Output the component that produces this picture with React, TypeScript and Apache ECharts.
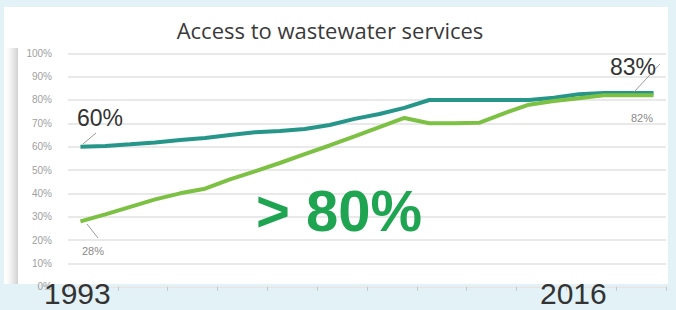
import React, { useEffect, useRef } from "react";
import * as echarts from "echarts";

const years = [
  "1993","1994","1995","1996","1997","1998","1999","2000","2001","2002","2003","2004",
  "2005","2006","2007","2008","2009","2010","2011","2012","2013","2014","2015","2016",
];
const accessTeal = [60, 60.3, 61, 61.8, 62.9, 63.7, 65, 66.2, 66.7, 67.6, 69.3, 71.9, 74, 76.6, 80, 80, 80, 80, 80, 81, 82.5, 83, 83, 83];
const accessGreen = [28, 31, 34.2, 37.4, 40, 42, 46, 49.4, 53, 56.8, 60.5, 64.4, 68.4, 72.3, 70, 70, 70.2, 74.3, 78, 79.6, 80.7, 82, 82, 82];
const yTicks = ["0%", "10%", "20%", "30%", "40%", "50%", "60%", "70%", "80%", "90%", "100%"];

export default function App() {
  const ref = useRef<HTMLDivElement>(null);
  useEffect(() => {
    if (!ref.current) return;
    const chart = echarts.init(ref.current, null, { renderer: "svg" });
    chart.setOption({
      animation: false,
      backgroundColor: "#e3f2f7",
      title: {
        text: "Access to wastewater services",
        left: 325,
        textAlign: "center",
        top: 14,
        textStyle: { fontFamily: "Open Sans", fontSize: 22, fontWeight: "normal", color: "#3a3a3a" },
      },
      grid: { left: 68, right: 10, top: 53.3, bottom: 23.3 },
      xAxis: {
        type: "category",
        data: years,
        boundaryGap: true,
        axisLine: { show: true, lineStyle: { color: "#ececec" } },
        axisTick: { show: true, length: 4, lineStyle: { color: "#c8c8c8" } },
        axisLabel: { show: false },
        splitLine: { show: false },
      },
      yAxis: {
        type: "value",
        min: 0,
        max: 100,
        interval: 10,
        axisLine: { show: false },
        axisTick: { show: false },
        axisLabel: {
          margin: 16,
          fontSize: 10,
          color: "#a0a0a0",
          fontFamily: "Liberation Sans",
          formatter: (v: number) => yTicks[Math.round(v / 10)],
        },
        splitLine: { lineStyle: { color: "#e2e2e2", width: 1.5 } },
      },
      graphic: [
        { type: "rect", z: -10, silent: true, shape: { x: 4, y: 7, width: 664, height: 277 }, style: { fill: "#ffffff" } },
        {
          type: "rect", z: -9, silent: true, shape: { x: 6, y: 48, width: 12, height: 236 },
          style: {
            fill: new echarts.graphic.LinearGradient(0, 0, 1, 0, [
              { offset: 0, color: "rgba(200,200,200,0)" },
              { offset: 1, color: "rgba(170,170,170,0.55)" },
            ]),
          },
        },
        { type: "line", z: 50, shape: { x1: 83, y1: 144, x2: 96, y2: 133 }, style: { stroke: "#9a9a9a", lineWidth: 1 } },
        { type: "line", z: 50, shape: { x1: 87, y1: 224, x2: 98, y2: 238 }, style: { stroke: "#9a9a9a", lineWidth: 1 } },
        { type: "line", z: 50, shape: { x1: 634, y1: 92, x2: 660, y2: 64 }, style: { stroke: "#9a9a9a", lineWidth: 1 } },
        { type: "text", z: 60, x: 77, y: 106, style: { text: "60%", fontSize: 23, fontFamily: "Liberation Sans", fill: "#333333" } },
        { type: "text", z: 60, x: 610, y: 55, style: { text: "83%", fontSize: 23, fontFamily: "Liberation Sans", fill: "#333333" } },
        { type: "text", z: 60, x: 631, y: 112, style: { text: "82%", fontSize: 11, fontFamily: "Liberation Sans", fill: "#8a8a8a" } },
        { type: "text", z: 60, x: 82, y: 245, style: { text: "28%", fontSize: 11, fontFamily: "Liberation Sans", fill: "#8a8a8a" } },
        { type: "text", z: 60, x: 44, y: 278, style: { text: "1993", fontSize: 30, fontFamily: "Liberation Sans", fill: "#333333" } },
        { type: "text", z: 60, x: 540, y: 278, style: { text: "2016", fontSize: 30, fontFamily: "Liberation Sans", fill: "#333333" } },
        {
          type: "text", z: 60, x: 339, y: 210,
          style: {
            text: "> 80%", fontSize: 58, fontWeight: "bold", fontFamily: "Liberation Sans",
            fill: "#1fa552", align: "center", verticalAlign: "middle",
          },
        },
      ],
      series: [
        {
          name: "Teal",
          type: "line",
          data: accessTeal,
          symbol: "none",
          lineStyle: { color: "#26968a", width: 4 },
          z: 3,
        },
        {
          name: "Green",
          type: "line",
          data: accessGreen,
          symbol: "none",
          lineStyle: { color: "#7cc143", width: 4 },
          z: 4,
        },
      ],
    });
    return () => chart.dispose();
  }, []);
  return <div ref={ref} style={{ position: "fixed", left: 0, top: 0, width: 676, height: 310 }} />;
}
